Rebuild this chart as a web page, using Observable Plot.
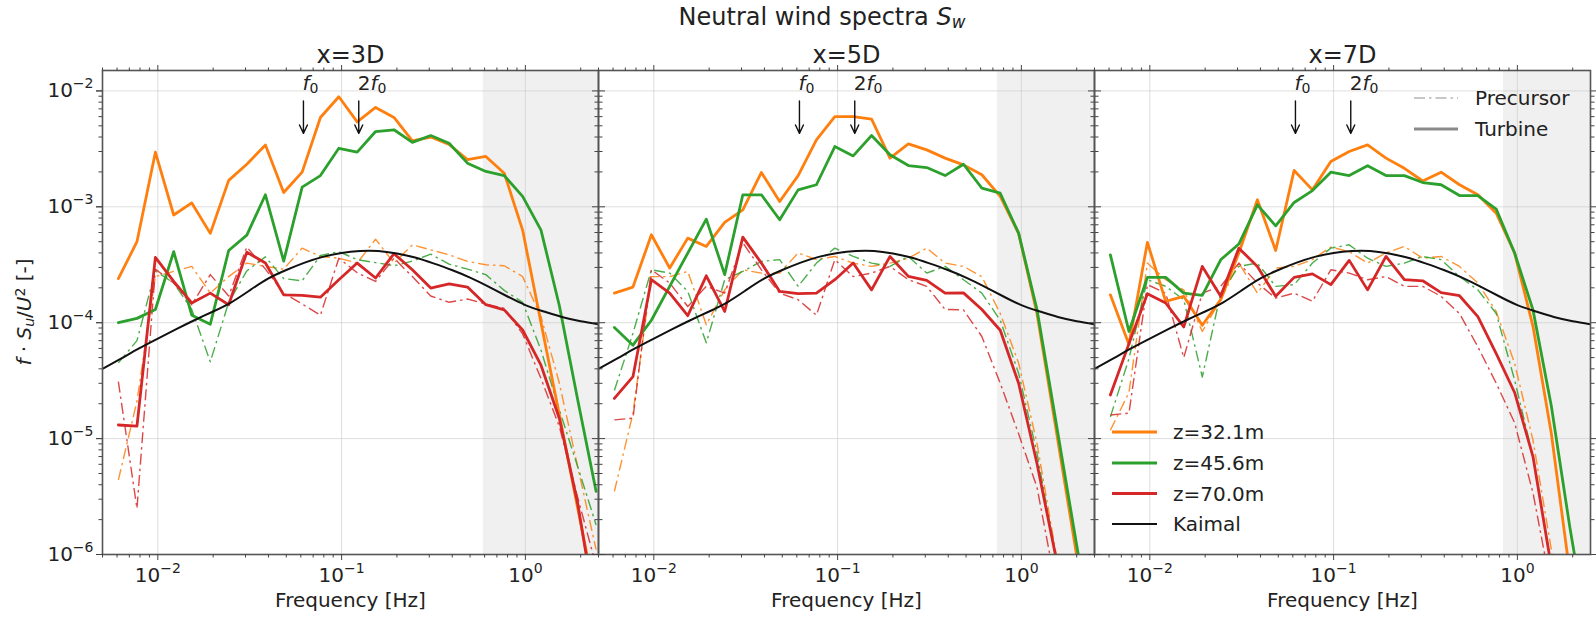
<!DOCTYPE html>
<html><head><meta charset="utf-8">
<script src="https://cdn.jsdelivr.net/npm/d3@7"></script>
<script src="https://cdn.jsdelivr.net/npm/@observablehq/plot@0.6"></script>
<style>html,body{margin:0;padding:0;background:#fff}#chart svg{display:block}</style>
</head><body><div id="chart"></div>
<script>
// ---------- data ----------
const panels = ["x=3D", "x=5D", "x=7D"];
const heights = ["z=32.1m", "z=45.6m", "z=70.0m"];
const heightColors = ["#ff7f0e", "#2ca02c", "#d62728"];
const kinds = ["Precursor", "Turbine"];

const freq = [0.0061, 0.0077, 0.0097, 0.0122, 0.0153, 0.0193, 0.0243, 0.0305, 0.0385, 0.0484,
  0.061, 0.0767, 0.0966, 0.1216, 0.1531, 0.1928, 0.2427, 0.3055, 0.3846, 0.4842,
  0.6095, 0.7674, 0.9661, 1.2162, 1.5311, 1.9275, 2.4266];

// x = 3D
const turb3D_z321 = [2.4e-4, 5.0e-4, 2.96e-3, 8.5e-4, 1.08e-3, 5.9e-4, 1.69e-3, 2.33e-3, 3.42e-3, 1.33e-3, 1.99e-3, 5.9e-3, 8.9e-3, 5.4e-3, 7.2e-3, 5.9e-3, 3.7e-3, 4.0e-3, 3.45e-3, 2.55e-3, 2.72e-3, 1.95e-3, 6.3e-4, 1.0e-4, 1.6e-5, 2.5e-6, 4e-7];
const turb3D_z456 = [1.0e-4, 1.09e-4, 1.3e-4, 4.1e-4, 1.16e-4, 9.7e-5, 4.2e-4, 5.7e-4, 1.27e-3, 3.4e-4, 1.48e-3, 1.86e-3, 3.2e-3, 2.96e-3, 4.46e-3, 4.62e-3, 3.6e-3, 4.12e-3, 3.54e-3, 2.38e-3, 2.02e-3, 1.86e-3, 1.23e-3, 6.3e-4, 1.4e-4, 2.15e-5, 3.5e-6];
const turb3D_z700 = [1.31e-5, 1.28e-5, 3.66e-4, 2.27e-4, 1.48e-4, 1.8e-4, 1.43e-4, 4.06e-4, 3.27e-4, 1.74e-4, 1.72e-4, 1.66e-4, 2.35e-4, 3.27e-4, 2.43e-4, 3.94e-4, 2.86e-4, 1.99e-4, 2.16e-4, 2.03e-4, 1.43e-4, 1.29e-4, 8.65e-5, 4.3e-5, 1.49e-5, 2.75e-6, 3e-7];
const prec3D_z321 = [4.4e-6, 2.1e-5, 2.5e-4, 2.77e-4, 3.06e-4, 1.8e-4, 2.5e-4, 3.27e-4, 3.06e-4, 2.9e-4, 4.4e-4, 3.73e-4, 3.6e-4, 3.27e-4, 5.26e-4, 3.27e-4, 4.7e-4, 4.25e-4, 3.85e-4, 3.38e-4, 3.16e-4, 3.1e-4, 2.5e-4, 1.13e-4, 3.0e-5, 5.7e-6, 1.1e-6];
const prec3D_z456 = [4.5e-5, 7.0e-5, 2.8e-4, 2.2e-4, 1.3e-4, 4.6e-5, 1.5e-4, 2.8e-4, 3.7e-4, 2.4e-4, 2.3e-4, 3.8e-4, 4.1e-4, 3.5e-4, 3.3e-4, 3.1e-4, 3.4e-4, 3.9e-4, 3.2e-4, 2.9e-4, 2.6e-4, 1.9e-4, 1.5e-4, 5.8e-5, 1.77e-5, 5.7e-6, 1.8e-6];
const prec3D_z700 = [3.1e-5, 2.5e-6, 2.9e-4, 2.2e-4, 1.43e-4, 2.6e-4, 1.7e-4, 4.5e-4, 2.9e-4, 1.8e-4, 1.45e-4, 1.16e-4, 3.6e-4, 2.7e-4, 2.27e-4, 3.6e-4, 2.5e-4, 1.7e-4, 1.5e-4, 1.6e-4, 1.45e-4, 1.33e-4, 8.0e-5, 3.3e-5, 1.27e-5, 3.1e-6, 8e-7];

// x = 5D
const turb5D_z321 = [1.8e-4, 2.03e-4, 5.74e-4, 2.96e-4, 5.37e-4, 4.55e-4, 7.33e-4, 9.42e-4, 1.98e-3, 1.11e-3, 1.86e-3, 3.78e-3, 6.0e-3, 6.0e-3, 5.7e-3, 2.63e-3, 3.49e-3, 3.1e-3, 2.63e-3, 2.3e-3, 1.89e-3, 1.23e-3, 5.9e-4, 1.2e-4, 1.3e-5, 1.4e-6, 1.5e-7];
const turb5D_z456 = [9.1e-5, 6.4e-5, 1.05e-4, 2.06e-4, 3.99e-4, 7.83e-4, 2.6e-4, 1.27e-3, 1.27e-3, 7.73e-4, 1.4e-3, 1.55e-3, 3.31e-3, 2.75e-3, 4.12e-3, 2.81e-3, 2.27e-3, 2.18e-3, 1.86e-3, 2.33e-3, 1.45e-3, 1.31e-3, 5.93e-4, 1.3e-4, 1.5e-5, 1.7e-6, 2e-7];
const turb5D_z700 = [2.22e-5, 3.42e-5, 2.35e-4, 1.8e-4, 1.15e-4, 2.54e-4, 1.25e-4, 5.48e-4, 3.27e-4, 1.86e-4, 1.78e-4, 1.8e-4, 2.35e-4, 3.27e-4, 1.92e-4, 3.73e-4, 2.51e-4, 2.32e-4, 1.8e-4, 1.81e-4, 1.3e-4, 8.6e-5, 3.0e-5, 6.1e-6, 1.0e-6, 1e-7, 1e-8];
const prec5D_z321 = [3.5e-6, 1.65e-5, 2.5e-4, 2.5e-4, 2.77e-4, 9.6e-5, 1.92e-4, 2.86e-4, 2.68e-4, 2.68e-4, 4.0e-4, 3.5e-4, 3.73e-4, 3.27e-4, 3.06e-4, 3.27e-4, 3.6e-4, 4.4e-4, 3.27e-4, 3.06e-4, 2.5e-4, 1.2e-4, 4.5e-5, 9.1e-6, 1.1e-6, 1e-7, 1e-8];
const prec5D_z456 = [2.6e-5, 8.1e-5, 2.86e-4, 2.68e-4, 1.86e-4, 6.7e-5, 2.35e-4, 2.77e-4, 3.38e-4, 3.5e-4, 2.06e-4, 3.27e-4, 4.4e-4, 3.73e-4, 3.27e-4, 3.06e-4, 3.73e-4, 2.68e-4, 3.06e-4, 2.35e-4, 1.8e-4, 1.05e-4, 3.66e-5, 7.5e-6, 1.0e-6, 1e-7, 1e-8];
const prec5D_z700 = [1.45e-5, 1.5e-5, 2.86e-4, 2.2e-4, 1.38e-4, 2.06e-4, 1.8e-4, 4.9e-4, 2.86e-4, 1.8e-4, 1.58e-4, 1.16e-4, 3.5e-4, 2.5e-4, 2.68e-4, 3.06e-4, 2.35e-4, 2.06e-4, 1.3e-4, 1.29e-4, 7.6e-5, 3.0e-5, 1.1e-5, 3.8e-6, 5.6e-7, 1e-7, 1e-8];

// x = 7D
const turb7D_z321 = [1.74e-4, 6.5e-5, 4.93e-4, 1.53e-4, 1.69e-4, 9.5e-5, 1.58e-4, 4.0e-4, 1.15e-3, 4.2e-4, 2.06e-3, 1.4e-3, 2.46e-3, 3.0e-3, 3.42e-3, 2.63e-3, 2.15e-3, 1.67e-3, 1.99e-3, 1.55e-3, 1.27e-3, 8.8e-4, 4.0e-4, 9.3e-5, 1.1e-5, 7e-7, 5e-8];
const turb7D_z456 = [3.85e-4, 8.4e-5, 2.46e-4, 2.46e-4, 1.8e-4, 1.72e-4, 3.49e-4, 4.77e-4, 1.04e-3, 6.85e-4, 1.09e-3, 1.38e-3, 1.99e-3, 1.86e-3, 2.26e-3, 1.86e-3, 1.86e-3, 1.62e-3, 1.55e-3, 1.25e-3, 1.25e-3, 9.55e-4, 4.0e-4, 1.29e-4, 1.9e-5, 1.74e-6, 2e-7];
const turb7D_z700 = [2.38e-5, 6.6e-5, 1.78e-4, 1.48e-4, 9.2e-5, 3.06e-4, 1.69e-4, 4.4e-4, 3.06e-4, 1.69e-4, 2.46e-4, 2.64e-4, 2.13e-4, 3.45e-4, 1.92e-4, 3.73e-4, 2.35e-4, 2.3e-4, 1.82e-4, 1.71e-4, 1.13e-4, 5.4e-5, 2.5e-5, 7.0e-6, 7.8e-7, 1e-7, 1e-8];
const prec7D_z321 = [1.18e-5, 2.5e-5, 3.27e-4, 2.35e-4, 1.92e-4, 8.4e-5, 1.58e-4, 3.27e-4, 1.8e-4, 2.96e-4, 3.06e-4, 3.5e-4, 4.5e-4, 4.1e-4, 3.27e-4, 4.0e-4, 4.55e-4, 3.6e-4, 3.73e-4, 3.06e-4, 2.2e-4, 1.25e-4, 4.46e-5, 9.7e-6, 1.1e-6, 1e-7, 1e-8];
const prec7D_z456 = [1.54e-5, 4.9e-5, 2.35e-4, 2.06e-4, 1.58e-4, 3.4e-5, 1.8e-4, 3.06e-4, 3.27e-4, 2.06e-4, 2.13e-4, 3.27e-4, 4.4e-4, 4.7e-4, 3.6e-4, 3.06e-4, 3.27e-4, 3.73e-4, 3.5e-4, 2.5e-4, 1.92e-4, 1.2e-4, 3.2e-5, 7.0e-6, 8e-7, 1e-7, 1e-8];
const prec7D_z700 = [1.6e-5, 1.66e-5, 2.13e-4, 1.8e-4, 5.0e-5, 1.8e-4, 2.06e-4, 3.27e-4, 2.2e-4, 1.63e-4, 1.8e-4, 1.53e-4, 2.86e-4, 2.68e-4, 2.35e-4, 2.5e-4, 2.06e-4, 2.06e-4, 1.69e-4, 1.2e-4, 6.2e-5, 3.0e-5, 1.37e-5, 3.4e-6, 5e-7, 1e-7, 1e-8];

// Kaimal reference spectrum
const kaimalFreq = [0.005, 0.0063, 0.0079, 0.01, 0.0126, 0.0158, 0.02, 0.0251, 0.0316, 0.0398, 0.05, 0.063, 0.079, 0.1, 0.126, 0.158, 0.2, 0.251, 0.316, 0.398, 0.5, 0.63, 0.79, 1.0, 1.26, 1.58, 2.0, 2.5];
const kaimalValue = [4.0e-5, 4.9e-5, 6.0e-5, 7.3e-5, 8.8e-5, 1.05e-4, 1.25e-4, 1.5e-4, 1.9e-4, 2.4e-4, 2.85e-4, 3.3e-4, 3.7e-4, 4.0e-4, 4.15e-4, 4.15e-4, 3.95e-4, 3.65e-4, 3.25e-4, 2.85e-4, 2.45e-4, 2.05e-4, 1.7e-4, 1.42e-4, 1.25e-4, 1.12e-4, 1.03e-4, 9.7e-5];

// filtered (shaded) band start per panel
const shadeStart = [0.59, 0.74, 0.84];
// rotor frequencies
const rotorFreq = [0.062, 0.124];
const rotorLabels = ["f₀", "2f₀"];

// axis ticks (labels are 10 raised to the exponent)
const majorX = [0.01, 0.1, 1];
const xTickExp = ["−2", "−1", "0"];
const minorX = [0.005, 0.006, 0.007, 0.008, 0.009, 0.02, 0.03, 0.04, 0.05, 0.06, 0.07, 0.08, 0.09, 0.2, 0.3, 0.4, 0.5, 0.6, 0.7, 0.8, 0.9, 2];
const majorY = [1e-6, 1e-5, 1e-4, 1e-3, 1e-2];
const yTickExp = ["−6", "−5", "−4", "−3", "−2"];
const minorY = [1e-6, 1e-5, 1e-4, 1e-3].flatMap(b => [2, 3, 4, 5, 6, 7, 8, 9].map(m => m * b));

// ---------- build tables ----------
const seriesTable = [
  ["x=3D", "z=32.1m", "Turbine", turb3D_z321], ["x=3D", "z=45.6m", "Turbine", turb3D_z456], ["x=3D", "z=70.0m", "Turbine", turb3D_z700],
  ["x=3D", "z=32.1m", "Precursor", prec3D_z321], ["x=3D", "z=45.6m", "Precursor", prec3D_z456], ["x=3D", "z=70.0m", "Precursor", prec3D_z700],
  ["x=5D", "z=32.1m", "Turbine", turb5D_z321], ["x=5D", "z=45.6m", "Turbine", turb5D_z456], ["x=5D", "z=70.0m", "Turbine", turb5D_z700],
  ["x=5D", "z=32.1m", "Precursor", prec5D_z321], ["x=5D", "z=45.6m", "Precursor", prec5D_z456], ["x=5D", "z=70.0m", "Precursor", prec5D_z700],
  ["x=7D", "z=32.1m", "Turbine", turb7D_z321], ["x=7D", "z=45.6m", "Turbine", turb7D_z456], ["x=7D", "z=70.0m", "Turbine", turb7D_z700],
  ["x=7D", "z=32.1m", "Precursor", prec7D_z321], ["x=7D", "z=45.6m", "Precursor", prec7D_z456], ["x=7D", "z=70.0m", "Precursor", prec7D_z700]
];
const rows = seriesTable.flatMap(([panel, height, kind, vals]) =>
  vals.map((v, k) => ({panel, height, kind, key: panel + height + kind, f: freq[k], v})));
const kaimalRows = panels.flatMap(panel => kaimalFreq.map((f, i) => ({panel, f, v: kaimalValue[i]})));
const shadeRows = panels.map((panel, i) => ({panel, start: shadeStart[i]}));
const rotorRows = panels.flatMap(panel => rotorFreq.map((f, i) => ({panel, f, label: rotorLabels[i]})));

const XMAX = 2.5, YMIN = 1e-6, YMAX = 0.015;
const tickStroke = "#444";
const blank = () => "";
const SEP = "^"; // marker between base and exponent, replaced by a raised tspan below

const chart = Plot.plot({
  width: 1596, height: 617,
  marginLeft: 102, marginRight: 6, marginTop: 70, marginBottom: 63,
  style: {fontFamily: "DejaVu Sans", fontSize: "20px", color: "#222", background: "#fff", overflow: "visible"},
  fx: {domain: panels, padding: 0, axis: null},
  x: {type: "log", domain: [0.005, XMAX]},
  y: {type: "log", domain: [YMIN, YMAX]},
  color: {domain: heights, range: heightColors},
  marks: [
    Plot.rect(shadeRows, {fx: "panel", x1: "start", x2: XMAX, y1: YMIN, y2: YMAX, fill: "#f0f0f0"}),
    Plot.gridX({ticks: majorX, stroke: "#c8c8c8", strokeOpacity: 0.6, strokeWidth: 1}),
    Plot.gridY({ticks: majorY, stroke: "#c8c8c8", strokeOpacity: 0.6, strokeWidth: 1}),
    Plot.line(rows.filter(d => d.kind === "Precursor"), {fx: "panel", x: "f", y: "v", z: "key", stroke: "height",
      strokeWidth: 1.4, strokeDasharray: "11,4,2.5,4", strokeLinecap: "butt", strokeOpacity: 0.85, clip: true}),
    Plot.line(rows.filter(d => d.kind === "Turbine"), {fx: "panel", x: "f", y: "v", z: "key", stroke: "height",
      strokeWidth: 2.8, clip: true}),
    Plot.line(kaimalRows, {fx: "panel", x: "f", y: "v", stroke: "#111", strokeWidth: 2, curve: "natural", clip: true}),
    Plot.frame({stroke: "#555", strokeWidth: 1.6}),
    // bottom axis
    Plot.axisX({anchor: "bottom", ticks: majorX, tickSize: 6, tickPadding: 7, stroke: tickStroke,
      tickFormat: d => "10" + SEP + xTickExp[majorX.indexOf(d)], label: null, fill: "#222"}),
    Plot.axisX({anchor: "bottom", ticks: minorX, tickSize: 3.5, tickFormat: blank, label: null, stroke: tickStroke}),
    // top axis
    Plot.axisX({anchor: "top", ticks: majorX, tickSize: 6, tickFormat: blank, label: null, stroke: tickStroke}),
    Plot.axisX({anchor: "top", ticks: minorX, tickSize: 3.5, tickFormat: blank, label: null, stroke: tickStroke}),
    // left axis
    Plot.axisY({anchor: "left", ticks: majorY, tickSize: 6, tickPadding: 3, stroke: tickStroke,
      tickFormat: d => "10" + SEP + yTickExp[majorY.indexOf(d)], label: null, fill: "#222"}),
    Plot.axisY({anchor: "left", ticks: majorY, tickSize: 6, tickFormat: blank, label: null, stroke: tickStroke, facetAnchor: null}),
    Plot.axisY({anchor: "left", ticks: minorY, tickSize: 3.5, tickFormat: blank, label: null, stroke: tickStroke, facetAnchor: null}),
    // right axis
    Plot.axisY({anchor: "right", ticks: majorY, tickSize: 6, tickFormat: blank, label: null, stroke: tickStroke, facetAnchor: null}),
    Plot.axisY({anchor: "right", ticks: minorY, tickSize: 3.5, tickFormat: blank, label: null, stroke: tickStroke, facetAnchor: null}),
    // panel titles and x labels
    Plot.text(panels, {fx: d => d, text: d => d, frameAnchor: "top", lineAnchor: "bottom", dy: -8, fontSize: 24, fill: "#222"}),
    Plot.text(panels, {fx: d => d, text: () => "Frequency [Hz]", frameAnchor: "bottom", lineAnchor: "bottom", dy: 52, fontSize: 20, fill: "#222"}),
    // rotor frequency arrows
    Plot.arrow(rotorRows, {fx: "panel", x1: "f", x2: "f", y1: 8.2e-3, y2: 4.3e-3, stroke: "#111", strokeWidth: 1.4, headLength: 10, headAngle: 50}),
    Plot.text(rotorRows, {fx: "panel", x: "f", y: 8.2e-3, text: "label", textAnchor: "start", lineAnchor: "bottom", dy: -11, dx: -1, fontSize: 20, fill: "#222"})
  ]
});

document.getElementById("chart").appendChild(chart);
const svg = d3.select(chart);

// mixed-style labels: f0 / 2f0 and 10^n tick labels
svg.selectAll("text").each(function() {
  const s = this.textContent;
  const t = d3.select(this);
  if (s === "f₀" || s === "2f₀") {
    t.text("");
    if (s === "2f₀") t.append("tspan").text("2");
    t.append("tspan").attr("font-style", "italic").text("f");
    t.append("tspan").attr("font-size", "70%").attr("baseline-shift", "-20%").text("0");
  } else if (s.startsWith("10" + SEP)) {
    const exp = s.slice(3);
    t.text("");
    t.append("tspan").text("10");
    t.append("tspan").attr("font-size", "14px").attr("baseline-shift", "9px").text(exp);
  }
});

// title
const title = svg.append("text").attr("x", 822).attr("y", 25).attr("text-anchor", "middle")
  .attr("font-family", "DejaVu Sans").attr("font-size", 24).attr("fill", "#222");
title.append("tspan").text("Neutral wind spectra ");
title.append("tspan").attr("font-style", "italic").text("S");
title.append("tspan").attr("font-style", "italic").attr("font-size", "70%").attr("baseline-shift", "-20%").text("w");

// y label
const yl = svg.append("text").attr("transform", "translate(31,312) rotate(-90)").attr("text-anchor", "middle")
  .attr("font-family", "DejaVu Sans").attr("font-size", 20).attr("fill", "#222");
yl.append("tspan").attr("font-style", "italic").text("f");
yl.append("tspan").text(" · ");
yl.append("tspan").attr("font-style", "italic").text("S");
yl.append("tspan").attr("font-style", "italic").attr("font-size", "70%").attr("baseline-shift", "-20%").text("u");
yl.append("tspan").text("/");
yl.append("tspan").attr("font-style", "italic").text("U");
yl.append("tspan").attr("font-size", "70%").attr("baseline-shift", "45%").text("2");
yl.append("tspan").text(" [-]");

// legends (inside the x=7D panel)
const lg = svg.append("g").attr("font-family", "DejaVu Sans").attr("font-size", 20).attr("fill", "#222")
  .attr("text-anchor", "start");
const kindLegend = [
  {label: kinds[0], y: 98, stroke: "#b5b5b5", w: 1.5, dash: "11,4,2.5,4"},
  {label: kinds[1], y: 129, stroke: "#8a8a8a", w: 2.8, dash: null}
];
kindLegend.forEach(e => {
  lg.append("line").attr("x1", 1414).attr("x2", 1458).attr("y1", e.y).attr("y2", e.y)
    .attr("stroke", e.stroke).attr("stroke-width", e.w).attr("stroke-dasharray", e.dash);
  lg.append("text").attr("x", 1475).attr("y", e.y).attr("dy", "0.35em").attr("text-anchor", "start").text(e.label);
});
const zLegend = heights.map((h, i) => ({label: h, color: heightColors[i], w: 2.8}))
  .concat([{label: "Kaimal", color: "#111", w: 2}]);
const zy = [432, 463, 493.5, 524];
zLegend.forEach((e, i) => {
  lg.append("line").attr("x1", 1112).attr("x2", 1157).attr("y1", zy[i]).attr("y2", zy[i])
    .attr("stroke", e.color).attr("stroke-width", e.w);
  lg.append("text").attr("x", 1173).attr("y", zy[i]).attr("dy", "0.35em").attr("text-anchor", "start").text(e.label);
});
</script>
</body></html>
